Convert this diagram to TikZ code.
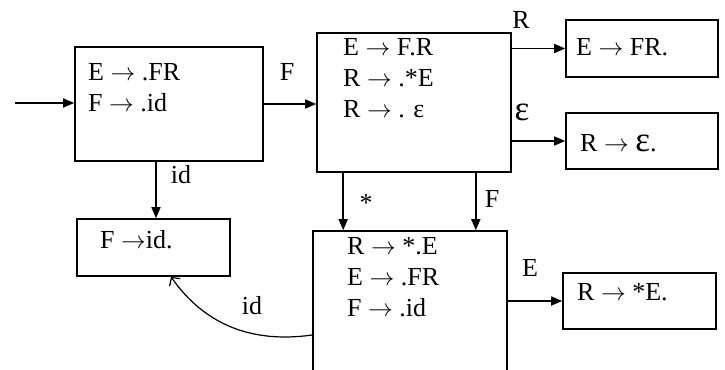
\documentclass[tikz,border=0pt]{standalone}
\usepackage{fontspec}
\setmainfont{Liberation Serif}
\usetikzlibrary{arrows.meta}

\newcommand{\goesto}{$\rightarrow$}
\newcommand{\bigeps}{\scalebox{1.35}{ε}}

\tikzset{
  state/.style={draw, line width=1.6bp, rectangle, inner sep=0pt},
  item/.style={anchor=north west, inner sep=0pt, align=left,
    font=\fontsize{26bp}{31bp}\selectfont},
  lbl/.style={inner sep=0pt, font=\fontsize{26bp}{31bp}\selectfont},
  arr/.style={line width=1.6bp, -{Triangle[length=11bp,width=9bp]}},
  curv/.style={line width=1.2bp, -{Straight Barb[length=6bp,width=13bp]}}
}

\begin{document}
\begin{tikzpicture}[x=1bp, y=-1bp]
            \useasboundingbox (0,0) rectangle (725,369);
            % Item sets
            \node[state, minimum width=188bp, minimum height=114bp] (I0) at (169,104) {};
            \node[state, minimum width=194bp, minimum height=139bp] (I1) at (414,102.5) {};
            \node[state, minimum width=152bp, minimum height=57bp] (I2) at (642,48.5) {};
            \node[state, minimum width=152bp, minimum height=56bp] (I3) at (642,141) {};
            \node[state, minimum width=194bp, minimum height=144bp] (I4) at (410,303) {};
            \node[state, minimum width=153bp, minimum height=56bp] (I5) at (639.5,301) {};
            \node[state, minimum width=153bp, minimum height=57bp] (I6) at (153.5,247.5) {};
            % Items
            \node[item] (t0) at (88,63) {E \goesto{} .FR\\F \goesto{} .id};
            \node[item] (t1) at (343,38) {E \goesto{} F.R\\R \goesto{} .*E\\R \goesto{} . ε};
            \node[item] (t2) at (576,38) {E \goesto{} FR.};
            \node[item] (t3) at (580,134) {R \goesto{} \bigeps.};
            \node[item] (t4) at (347,237) {R \goesto{} *.E\\E \goesto{} .FR\\F \goesto{} .id};
            \node[item] (t5) at (577,283) {R \goesto{} *E.};
            \node[item] (t6) at (100,230) {F \goesto{}id.};
            % Edges
            \coordinate (start) at (15,103);
            \draw[arr] (start) -- (start -| I0.west);
            \draw[arr] (I0.east) -- (I0.east -| I1.west);
            \draw[arr] (I1.east |- I2.west) -- (I2.west);
            \draw[arr] (I1.east |- I3.west) -- (I3.west);
            \draw[arr] ([xshift=27bp]I1.south west) -- ([xshift=27bp]I1.south west |- I4.north);
            \draw[arr] ([xshift=-36bp]I1.south east) -- ([xshift=-36bp]I1.south east |- I4.north);
            \draw[arr] (I4.east |- I5.west) -- (I5.west);
            \draw[arr] ([xshift=2.5bp]I6.north |- I0.south) -- ([xshift=2.5bp]I6.north);
            \draw[curv] ([yshift=-32bp]I4.west) to[out=188, in=-55] ([xshift=17.5bp]I6.south);
            % Edge labels
            \node[lbl] (lF) at (287,72) {F};
            \node[lbl] (lR) at (521,20) {R};
            \node[lbl] (leps) at (522,112) {\bigeps};
            \node[lbl] (lstar) at (366,203) {*};
            \node[lbl] (lF2) at (492,199) {F};
            \node[lbl] (lE) at (530,268) {E};
            \node[lbl] (lid) at (181,175) {id};
            \node[lbl] (lid2) at (252,306) {id};
\end{tikzpicture}
\end{document}
